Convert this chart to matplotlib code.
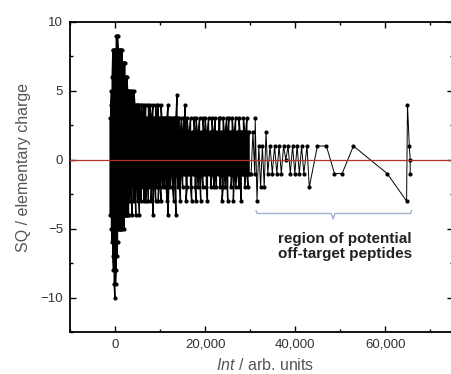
import matplotlib
matplotlib.use('Agg')
import matplotlib.pyplot as plt
from matplotlib.ticker import MultipleLocator, FuncFormatter

plt.rcParams['font.family'] = ['Liberation Sans', 'DejaVu Sans']
plt.rcParams['mathtext.fontset'] = 'custom'
plt.rcParams['mathtext.it'] = 'Liberation Sans:italic'
plt.rcParams['mathtext.rm'] = 'Liberation Sans'

# dense part: for each intensity, the SQ values the trace jumps between
# (upper / lower end of each vertical stroke)
int_core = [-1100, -950, -800, -650, -500, -350, -200, -50, 100, 250,
            400, 550, 700, 850, 1000, 1150, 1300, 1450, 1600, 1750,
            1900, 2050, 2200, 2350, 2500, 2650, 2800]
hi_core = [3, 4, 5, 6, 8, 8, 8, 8, 8, 9,
           9, 9, 8, 8, 8, 8, 8, 7, 8, 7,
           7, 7, 7, 6, 6, 6, 5]
lo_core = [-4, -4, -5, -6, -7, -8, -9, -10, -9, -8,
           -7, -6, -5, -5, -5, -5, -5, -4, -5, -4,
           -4, -5, -4, -4, -4, -4, -4]

int_mid = [3000, 3200, 3400, 3600, 3800, 4000, 4200, 4400, 4600, 4800,
           5000, 5200, 5400, 5600, 5800, 6000, 6200, 6400, 6600, 6800,
           7000, 7200, 7400, 7600, 7800, 8000, 8200, 8400, 8600, 8800,
           9000, 9200, 9400, 9600, 9800, 10000, 10200, 10400, 10600, 10800]
hi_mid = [5, 5, 4, 5, 5, 4, 5, 4, 4, 4,
          4, 3, 4, 3, 4, 4, 3, 4, 3, 4,
          3, 3, 4, 3, 4, 3, 3, 4, 3, 3,
          4, 3, 3, 4, 3, 3, 4, 3, 3, 3]
lo_mid = [-4, -3, -2, -3, -4, -1, -3, -2, -4, -1,
          -3, -2, -4, -1, -3, -1, -2, -3, -1, -3,
          -2, -1, -3, -1, -2, -3, -1, -4, -2, -1,
          -3, -2, -1, -3, -1, -2, -3, -1, -2, -1]

int_tail = [11000, 11250, 11500, 11750, 12000, 12250, 12500, 12750, 13000, 13250,
            13500, 13750, 14000, 14250, 14500, 14750, 15000, 15250, 15500, 15750,
            16000, 16250, 16500, 16750, 17000, 17250, 17500, 17750, 18000, 18250,
            18500, 18750, 19000, 19250, 19500, 19750, 20000, 20250, 20500, 20750,
            21000, 21250, 21500, 21750, 22000, 22250, 22500, 22750, 23000, 23250,
            23500, 23750, 24000, 24250, 24500, 24750, 25000, 25250, 25500, 25750,
            26000, 26250, 26500, 26750, 27000, 27250, 27500, 27750, 28000, 28250,
            28500, 28750, 29000, 29250, 29500, 29750]
hi_tail = [3, 3, 3, 4, 3, 3, 3, 3, 3, 3,
           3, 4.7, 3, 3, 2, 3, 2, 3, 4, 2,
           3, 2, 2, 3, 2, 2, 3, 2, 3, 2,
           2, 3, 2, 2, 3, 2, 3, 2, 2, 3,
           2, 2, 3, 2, 2, 3, 2, 2, 3, 3,
           2, 2, 3, 2, 2, 3, 2, 3, 2, 2,
           3, 2, 2, 3, 2, 2, 3, 2, 2, 2,
           3, 2, 2, 3, 2, 2]
lo_tail = [-2, -1, -3, -4, -1, -2, -1, -2, -3, -1,
           -4, -1, -2, -1, -3, -1, -2, -1, -1, -3,
           -2, -1, -1, -2, -3, -1, -1, -2, -3, -1,
           -2, -1, -3, -1, -2, -1, -1, -2, -3, -1,
           -1, -2, -1, -1, -2, -1, -2, -1, -1, -2,
           -1, -3, -2, -1, -2, -1, -3, -1, -1, -2,
           -1, -3, -1, -2, -1, -1, -2, -1, -3, -1,
           -1, -2, -1, -1, -2, -1]

# sparse high-intensity part, point by point
int_sparse = [29750, 30200, 30600, 31000, 31100, 31500, 31900, 32300, 32700, 33100,
              33500, 33900, 34400, 34900, 35400, 35900, 36400, 36900, 37400, 37900,
              38400, 38900, 39400, 39900, 40400, 40900, 41400, 41900, 42600, 43100,
              44900, 46900, 48700, 50400, 52900, 60400, 64700, 64900, 65300, 65500,
              65500]
sq_sparse = [-1, -1, 2, -1, 3, -3, 1, -2, 1, -2,
             2, -1, 1, -1, 1, -1, 1, -1, 1, 0,
             1, -1, 1, -1, 1, -1, 1, -1, 1, -2,
             1, 1, -1, -1, 1, -1, -3, 4, 1, 0,
             -1]

# trace order: up-down strokes through the dense part
dense_x, dense_y = [], []
dense = zip(int_core + int_mid + int_tail, hi_core + hi_mid + hi_tail,
            lo_core + lo_mid + lo_tail)
for i, (x, h, l) in enumerate(dense):
    pair = (h, l) if i % 2 == 0 else (l, h)
    dense_x += [x, x]
    dense_y += list(pair)

fig = plt.figure(figsize=(4.51, 3.74), dpi=100)
ax = fig.add_axes([70/451, 42/374, 383/451, 310/374])

ax.plot(dense_x, dense_y, color='black', lw=0.95, marker='o', ms=2.0, zorder=2)
ax.plot(int_sparse, sq_sparse, color='black', lw=0.7, marker='o', ms=2.0, zorder=2)
ax.axhline(0, color='#b5302c', lw=0.9, zorder=3)

# bracket + note for the sparse high-intensity part
bx = [31300, 31500, 48000, 48400, 48800, 65600, 65800]
by = [-3.7, -3.9, -3.9, -4.3, -3.9, -3.9, -3.7]
ax.plot(bx, by, color='#9fb3d1', lw=1.0)
ax.text(51100, -6.3, 'region of potential\noff-target peptides', ha='center',
        va='center', fontsize=11, fontweight='bold', color='#222222',
        linespacing=1.15)

ax.set_xlim(-10000, 75000)
ax.set_ylim(-12.5, 10)
ax.xaxis.set_major_locator(MultipleLocator(20000))
ax.xaxis.set_minor_locator(MultipleLocator(10000))
ax.yaxis.set_major_locator(MultipleLocator(5))
ax.yaxis.set_minor_locator(MultipleLocator(2.5))
ax.xaxis.set_major_formatter(FuncFormatter(lambda v, p: '{:,.0f}'.format(v)))

ax.tick_params(which='both', direction='in', top=True, right=True,
               labelsize=9.5, labelcolor='#333333', width=1.0)
ax.tick_params(which='major', length=4, pad=5)
ax.tick_params(which='minor', length=2.5)
for s in ax.spines.values():
    s.set_linewidth(1.3)

ax.set_xlabel(r'$\mathit{Int}$ / arb. units', fontsize=11.5, color='#555555')
ax.set_ylabel('SQ / elementary charge', fontsize=11.5, color='#555555')
ax.xaxis.set_label_coords(0.51, -0.08)
ax.yaxis.set_label_coords(-0.102, 0.53)

fig.savefig('out.png', dpi=100)
